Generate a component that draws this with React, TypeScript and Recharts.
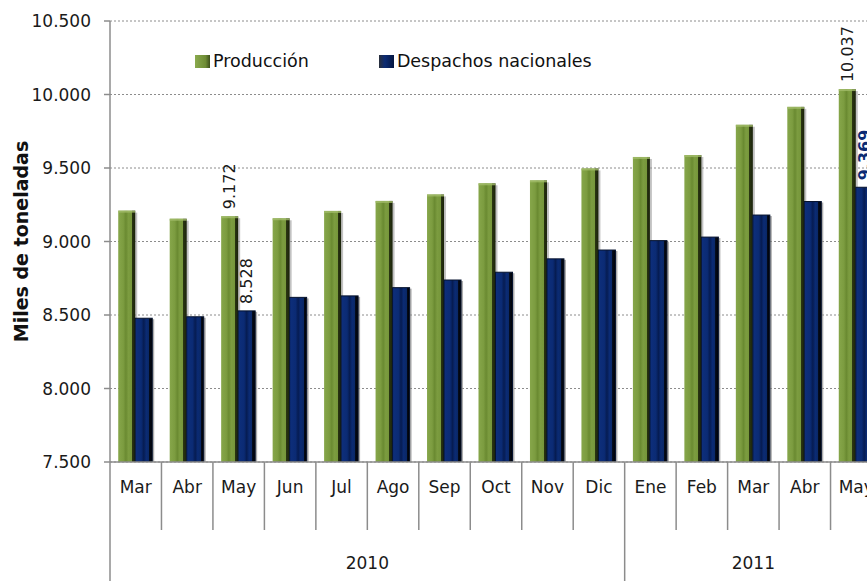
import React from 'react';
import { BarChart, Bar, XAxis, YAxis, CartesianGrid, LabelList } from 'recharts';

const months = ['Mar', 'Abr', 'May', 'Jun', 'Jul', 'Ago', 'Sep', 'Oct', 'Nov', 'Dic', 'Ene', 'Feb', 'Mar', 'Abr', 'May'];
const years = ['2010', '2010', '2010', '2010', '2010', '2010', '2010', '2010', '2010', '2010', '2011', '2011', '2011', '2011', '2011'];
const produccion = [9210, 9155, 9172, 9158, 9208, 9276, 9320, 9396, 9416, 9497, 9575, 9588, 9794, 9916, 10037];
const despachos = [8478, 8488, 8528, 8620, 8630, 8686, 8738, 8791, 8882, 8942, 9006, 9030, 9180, 9272, 9369];
const produccionLabels = [null, null, 9172, null, null, null, null, null, null, null, null, null, null, null, 10037];
const despachosLabels = [null, null, 8528, null, null, null, null, null, null, null, null, null, null, null, 9369];
const yTicks = [7500, 8000, 8500, 9000, 9500, 10000, 10500];
const seriesNames = ['Producción', 'Despachos nacionales'];

const data = months.map((m, i) => ({
  key: `${m}-${years[i]}-${i}`,
  month: m,
  year: years[i],
  produccion: produccion[i],
  despachos: despachos[i],
  pLabel: produccionLabels[i],
  dLabel: despachosLabels[i],
  idx: i,
}));

const FONT = '"DejaVu Sans", sans-serif';
const GREEN = '#7a9a3e';
const BLUE = '#0b2b74';

const fmt = (v: number) => {
  const s = Math.round(v).toString();
  return s.replace(/\B(?=(\d{3})+(?!\d))/g, '.');
};

const CHART_W = 882;
const CHART_H = 600;
const LEFT = 110;
const TOP = 21;
const PLOT_BOTTOM = 462;
const PLOT_W = CHART_W - LEFT;
const BAND = PLOT_W / months.length;

const GreenBar = (props: any) => {
  const { x, y, width, height } = props;
  if (height <= 0) return null;
  return (
    <g>
      <rect x={x + 2} y={y + 2} width={width} height={height - 2} fill="#9a9a9a" opacity={0.6} />
      <rect x={x} y={y} width={width} height={height} fill="url(#gGreen)" />
      <rect x={x} y={y} width={width} height={2} fill="#a3bd6a" opacity={0.8} />
    </g>
  );
};

const BlueBar = (props: any) => {
  const { x, y, width, height } = props;
  if (height <= 0) return null;
  return (
    <g>
      <rect x={x + 2} y={y + 1} width={width} height={height - 1} fill="#8a8a8a" opacity={0.7} />
      <rect x={x} y={y} width={width} height={height} fill="url(#gBlue)" stroke="#05122e" strokeWidth={1} />
    </g>
  );
};

const makeLabel = (boldLast: boolean) => (props: any) => {
  const { x, y, width, value, index } = props;
  if (value === null || value === undefined) return null;
  const special = boldLast && index === months.length - 1;
  const cx = x + width / 2;
  const ty = y - 7;
  return (
    <text
      x={cx}
      y={ty}
      transform={`rotate(-90 ${cx} ${ty})`}
      textAnchor="start"
      dominantBaseline="central"
      fontFamily={FONT}
      fontSize={16}
      fontWeight={special ? 'bold' : 'normal'}
      fill={special ? '#0b2b74' : '#1a1a1a'}
    >
      {fmt(value)}
    </text>
  );
};

const MonthTick = (props: any) => {
  const { x, payload } = props;
  const i = payload.index;
  const left = x - BAND / 2;
  const isYearStart = i === 0 || years[i] !== years[i - 1];
  const elems: any[] = [];
  elems.push(
    <line key="l" x1={left} y1={PLOT_BOTTOM} x2={left} y2={isYearStart ? CHART_H : 530} stroke="#8c8c8c" strokeWidth={1.5} />
  );
  elems.push(
    <text key="t" x={x} y={PLOT_BOTTOM + 25} textAnchor="middle" dominantBaseline="central" fontFamily={FONT} fontSize={17} fill="#1a1a1a">
      {months[i]}
    </text>
  );
  if (isYearStart) {
    let j = i;
    while (j + 1 < years.length && years[j + 1] === years[i]) j++;
    const cx = left + ((j - i + 1) * BAND) / 2;
    elems.push(
      <text key="y" x={cx} y={PLOT_BOTTOM + 101} textAnchor="middle" dominantBaseline="central" fontFamily={FONT} fontSize={17} fill="#1a1a1a">
        {years[i]}
      </text>
    );
  }
  return <g>{elems}</g>;
};

const LegendBox = () => (
  <div
    style={{
      position: 'absolute',
      left: 195,
      top: 50,
      display: 'flex',
      alignItems: 'center',
      fontFamily: FONT,
      fontSize: 17.5,
      color: '#111',
      whiteSpace: 'nowrap',
      lineHeight: '22px',
    }}
  >
    <span style={{ display: 'inline-block', width: 15, height: 13, background: 'linear-gradient(90deg,#8aaa4e,#6e8c35 70%,#3d4f1c)', marginRight: 3 }} />
    <span style={{ marginRight: 70 }}>{seriesNames[0]}</span>
    <span style={{ display: 'inline-block', width: 15, height: 13, background: 'linear-gradient(90deg,#2a2f3a,#0b2b74 40%,#051640)', marginRight: 3 }} />
    <span>{seriesNames[1]}</span>
  </div>
);

const YTitle = (props: any) => {
  const vb = props.viewBox || {};
  const cy = (vb.y ?? TOP) + (vb.height ?? PLOT_BOTTOM - TOP) / 2;
  const cx = 21;
  return (
    <text
      x={cx}
      y={cy}
      transform={`rotate(-90 ${cx} ${cy})`}
      textAnchor="middle"
      dominantBaseline="central"
      fontFamily={FONT}
      fontSize={19}
      fontWeight="bold"
      fill="#111"
    >
      Miles de toneladas
    </text>
  );
};

export default function App() {
  return (
    <div style={{ position: 'absolute', left: 0, top: 0, width: 867, height: 581, overflow: 'hidden', background: '#fff' }}>
      <BarChart
        width={CHART_W}
        height={CHART_H}
        data={data}
        margin={{ top: TOP, right: 0, bottom: 0, left: 0 }}
        barCategoryGap="16%"
        barGap={0}
      >
        <defs>
          <linearGradient id="gGreen" x1="0" y1="0" x2="1" y2="0">
            <stop offset="0%" stopColor="#86a64a" />
            <stop offset="30%" stopColor="#7c9c40" />
            <stop offset="45%" stopColor="#6a8a31" />
            <stop offset="60%" stopColor="#7c9c40" />
            <stop offset="80%" stopColor="#76963b" />
            <stop offset="80%" stopColor="#2b3612" />
            <stop offset="100%" stopColor="#1a220a" />
          </linearGradient>
          <linearGradient id="gBlue" x1="0" y1="0" x2="1" y2="0">
            <stop offset="0%" stopColor="#0e2f7c" />
            <stop offset="35%" stopColor="#0b2b74" />
            <stop offset="50%" stopColor="#061c52" />
            <stop offset="65%" stopColor="#0b2b74" />
            <stop offset="82%" stopColor="#0a2866" />
            <stop offset="82%" stopColor="#050d20" />
            <stop offset="100%" stopColor="#000000" />
          </linearGradient>
        </defs>
        <CartesianGrid vertical={false} stroke="#8c8c8c" strokeDasharray="2 2" />
        <XAxis
          dataKey="key"
          tick={(p: any) => <MonthTick {...p} />}
          interval={0}
          tickLine={false}
          axisLine={{ stroke: '#8c8c8c', strokeWidth: 1.5 }}
          height={CHART_H - PLOT_BOTTOM}
        />
        <YAxis
          domain={[7500, 10500]}
          ticks={yTicks}
          interval={0}
          width={LEFT}
          tickFormatter={fmt}
          tick={{ fontFamily: FONT, fontSize: 17, fill: '#1a1a1a' }}
          tickLine={{ stroke: '#8c8c8c', strokeWidth: 1.5 }}
          tickSize={6}
          tickMargin={13}
          axisLine={{ stroke: '#8c8c8c', strokeWidth: 1.5 }}
          allowDataOverflow
          label={<YTitle />}
        />
        <Bar dataKey="produccion" name={seriesNames[0]} fill={GREEN} shape={<GreenBar />} isAnimationActive={false}>
          <LabelList dataKey="pLabel" content={makeLabel(false)} />
        </Bar>
        <Bar dataKey="despachos" name={seriesNames[1]} fill={BLUE} shape={<BlueBar />} isAnimationActive={false}>
          <LabelList dataKey="dLabel" content={makeLabel(true)} />
        </Bar>
      </BarChart>
      <LegendBox />
    </div>
  );
}
